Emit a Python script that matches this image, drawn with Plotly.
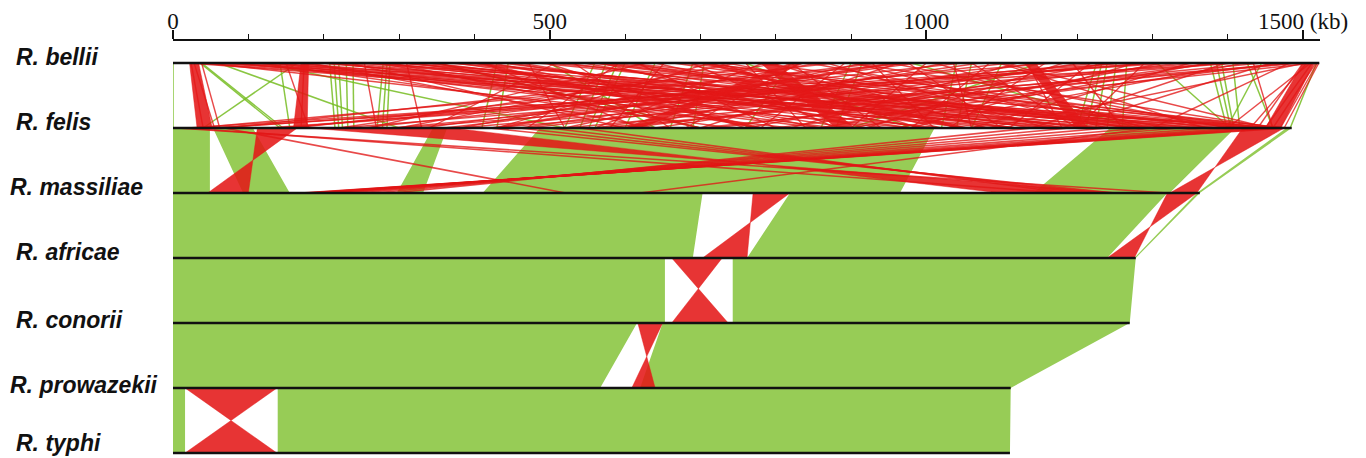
import plotly.graph_objects as go

# ---------------- data ----------------
genome_names = ["R. bellii", "R. felis", "R. massiliae", "R. africae",
                "R. conorii", "R. prowazekii", "R. typhi"]
genome_lengths_kb = [1522, 1485, 1363, 1278, 1270, 1112, 1111]

major_ticks_kb = [0, 500, 1000, 1500]
major_tick_text = ["0", "500", "1000", "1500 (kb)"]

# Synteny blocks between consecutive genomes, in kb:
# (upper start, upper end, lower start, lower end)
# "same" = collinear (green); "inv" = inverted (red), upper start pairs with lower end
felis_massiliae_same = [(0, 49, 0, 49), (53, 106, 93, 155), (345, 364, 297, 332),
                        (487, 1011, 411, 965), (1244, 1410, 1142, 1323),
                        (1478, 1485, 1359, 1363)]
felis_massiliae_inv = [(112, 165, 46, 100), (180, 370, 1098, 1257),
                       (1420, 1475, 1323, 1359)]
# single inverted matches (felis kb, massiliae kb)
felis_massiliae_lines_red = [(5, 1320), (68, 521), (20, 1180), (1300, 620),
                             (1480, 170), (1470, 176), (1460, 182), (1445, 186),
                             (1430, 190), (1410, 196), (1380, 204), (1340, 214),
                             (1290, 228), (1240, 246), (1190, 268), (1140, 292),
                             (420, 1250), (460, 1232), (500, 1210), (540, 1186)]

massiliae_africae_same = [(0, 703, 0, 690), (819, 1320, 762, 1240), (1359, 1363, 1276, 1278)]
massiliae_africae_inv = [(770, 819, 703, 762), (1320, 1359, 1240, 1276)]

africae_conorii_same = [(0, 653, 0, 653), (743, 1278, 743, 1270)]
africae_conorii_inv = [(662, 729, 662, 737)]

conorii_prowazekii_same = [(0, 616, 0, 567), (650, 1270, 620, 1112)]
conorii_prowazekii_inv = [(617, 650, 609, 640)]

prowazekii_typhi_same = [(0, 16, 0, 16), (139, 1112, 139, 1111)]
prowazekii_typhi_inv = [(16, 138, 16, 138)]

# R. bellii vs R. felis: matches (bellii kb, felis kb)
bellii_felis_green = [(0, 0), (36, 142), (38, 146), (165, 40), (142, 155), (208, 215),
                      (214, 220), (220, 225), (230, 232), (239, 240), (279, 271),
                      (284, 278), (288, 284), (120, 520), (60, 300), (430, 410),
                      (445, 430), (560, 520), (575, 540), (590, 552), (600, 560),
                      (690, 660), (705, 690), (900, 860), (915, 880), (1040, 1020),
                      (1060, 1040), (1226, 1200), (1233, 1212), (1240, 1225),
                      (1252, 1240), (1266, 1260), (1377, 1399), (1385, 1404),
                      (1392, 1408), (1407, 1416), (1426, 1460), (1445, 1399),
                      (1306, 1403), (1518, 1483), (980, 1280), (1150, 900), (760, 980),
                      (350, 700), (820, 760), (640, 600), (1100, 1060), (500, 640)]
bellii_felis_red = [(20, 1180), (24, 40), (28, 55), (32, 1240), (38, 62), (45, 820),
                    (52, 1300), (66, 1430), (74, 1120), (82, 980), (90, 1260),
                    (106, 1380), (114, 740), (122, 1470), (130, 860), (140, 1020),
                    (150, 180), (158, 1200), (166, 880), (174, 170), (182, 640),
                    (190, 1340), (206, 1090), (214, 950), (226, 1160), (234, 600),
                    (246, 1280), (254, 270), (262, 1400), (270, 780), (280, 1060),
                    (290, 700), (300, 1230), (300, 1470), (310, 330), (320, 900),
                    (330, 1180), (340, 1120), (352, 700), (364, 1440), (376, 980),
                    (388, 1350), (400, 1300), (412, 620), (424, 860), (436, 1120),
                    (448, 1000), (460, 1000), (472, 520), (484, 1360), (496, 760),
                    (500, 1460), (508, 340), (520, 1210), (532, 660), (544, 1050),
                    (556, 1280), (568, 920), (580, 1420), (592, 470), (600, 1480),
                    (604, 1140), (616, 800), (628, 260), (640, 1020), (652, 580),
                    (664, 1270), (676, 1450), (688, 880), (700, 1380), (700, 1475),
                    (712, 430), (724, 990), (736, 1180), (748, 300), (760, 840),
                    (772, 1450), (784, 560), (796, 1080), (808, 220), (820, 940),
                    (832, 680), (844, 1320), (856, 380), (868, 1160), (880, 70),
                    (892, 780), (900, 1465), (904, 1240), (916, 520), (928, 1010),
                    (940, 160), (952, 1400), (964, 700), (976, 1100), (980, 30),
                    (988, 330), (1000, 900), (1012, 1290), (1024, 600), (1036, 1060),
                    (1048, 250), (1060, 1200), (1072, 460), (1084, 980), (1096, 1370),
                    (1100, 1455), (1110, 360), (1122, 820), (1134, 1180), (1146, 560),
                    (1158, 1030), (1170, 140), (1182, 920), (1194, 1260), (1206, 640),
                    (1218, 1110), (1230, 290), (1242, 760), (1254, 470), (1266, 60),
                    (1278, 980), (1290, 1200), (1302, 220), (1314, 860), (1326, 20),
                    (1338, 600), (1350, 1060), (1362, 380), (1374, 900), (1386, 720),
                    (1398, 1140), (1410, 300), (1422, 960), (1434, 1460), (1446, 520),
                    (1458, 1180), (1470, 800), (1482, 1300), (1494, 420), (1500, 1440),
                    (1503, 1080), (1505, 1430), (1510, 1400), (1512, 1450), (1515, 700),
                    (1517, 1460), (1519, 1470), (1521, 1475)]
# thick red bundles: (bellii start, bellii end, felis start, felis end)
bellii_felis_red_bundles = [(22, 34, 32, 52), (170, 180, 160, 178), (250, 262, 1440, 1460),
                            (560, 575, 1300, 1320), (1400, 1415, 40, 55), (780, 800, 880, 905),
                            (820, 838, 600, 620), (1290, 1305, 120, 140),
                            (1500, 1515, 1450, 1470), (1480, 1500, 560, 580),
                            (700, 712, 1040, 1055), (950, 965, 420, 435),
                            (1130, 1145, 1200, 1215), (400, 412, 770, 785)]

# ---------------- styling ----------------
GREEN_FILL = "rgba(118,188,33,0.76)"
RED_FILL = "rgba(228,24,24,0.88)"
GREEN_LINE = "rgba(118,188,33,0.85)"
RED_LINE = "rgba(226,22,22,0.78)"

fig = go.Figure()


def same_polys(blocks, top):
    xs, ys = [], []
    for a1, a2, b1, b2 in blocks:
        xs += [a1, a2, b2, b1, a1, None]
        ys += [top, top, top + 1, top + 1, top, None]
    return xs, ys


def inv_polys(blocks, top):
    xs, ys = [], []
    for a1, a2, b1, b2 in blocks:
        s = (a2 - a1) / ((a2 - a1) + (b2 - b1))
        cx = a1 + s * (b2 - a1)
        cy = top + s
        xs += [a1, a2, cx, b1, b2, cx, a1, None]
        ys += [top, top, cy, top + 1, top + 1, cy, top, None]
    return xs, ys


def link_lines(pairs, top):
    xs, ys = [], []
    for a, b in pairs:
        xs += [a, b, None]
        ys += [top, top + 1, None]
    return xs, ys


panels = [
    (1, felis_massiliae_same, felis_massiliae_inv),
    (2, massiliae_africae_same, massiliae_africae_inv),
    (3, africae_conorii_same, africae_conorii_inv),
    (4, conorii_prowazekii_same, conorii_prowazekii_inv),
    (5, prowazekii_typhi_same, prowazekii_typhi_inv),
]

x, y = link_lines(bellii_felis_green, 0)
fig.add_trace(go.Scatter(x=x, y=y, mode="lines", line=dict(color=GREEN_LINE, width=1.5),
                         hoverinfo="skip", showlegend=False))
x, y = link_lines(bellii_felis_red, 0)
fig.add_trace(go.Scatter(x=x, y=y, mode="lines", line=dict(color=RED_LINE, width=1.4),
                         hoverinfo="skip", showlegend=False))
x, y = same_polys(bellii_felis_red_bundles, 0)
fig.add_trace(go.Scatter(x=x, y=y, mode="lines", fill="toself", fillcolor=RED_FILL,
                         line=dict(width=0.6, color=RED_FILL), hoverinfo="skip",
                         showlegend=False))

for top, same, inv in panels:
    x, y = same_polys(same, top)
    fig.add_trace(go.Scatter(x=x, y=y, mode="lines", fill="toself", fillcolor=GREEN_FILL,
                             line=dict(width=0, color=GREEN_FILL), hoverinfo="skip",
                             showlegend=False))
for top, same, inv in panels:
    x, y = inv_polys(inv, top)
    fig.add_trace(go.Scatter(x=x, y=y, mode="lines", fill="toself", fillcolor=RED_FILL,
                             line=dict(width=0.5, color=RED_FILL), hoverinfo="skip",
                             showlegend=False))

x, y = link_lines(felis_massiliae_lines_red, 1)
fig.add_trace(go.Scatter(x=x, y=y, mode="lines", line=dict(color=RED_LINE, width=1.6),
                         hoverinfo="skip", showlegend=False))

gx, gy = [], []
for i, L in enumerate(genome_lengths_kb):
    gx += [0, L, None]
    gy += [i, i, None]
fig.add_trace(go.Scatter(x=gx, y=gy, mode="lines", line=dict(color="#111111", width=2.6),
                         hoverinfo="skip", showlegend=False))

# The page body adds an 8 px margin, so the figure is placed 8 px in from the corner.
W, H = 1358, 450
OX, OY = 8, 8
label_left_px = {"R. massiliae": 8, "R. prowazekii": 8}
label_raise_px = {"R. bellii": 6, "R. felis": 6, "R. massiliae": 6, "R. africae": 6,
                  "R. conorii": 3, "R. prowazekii": 3, "R. typhi": 10}
for i, name in enumerate(genome_names):
    fig.add_annotation(x=(label_left_px.get(name, 14) - OX) / W, xref="paper",
                       y=i - label_raise_px[name] / 65, yref="y",
                       text="<b><i>" + name + "</i></b>", showarrow=False,
                       xanchor="left", yanchor="middle",
                       font=dict(family="Liberation Sans", size=23, color="#111111"))

PX_PER_KB = 1130 / 1500
axis_end_kb = genome_lengths_kb[0]
x_zero_px = 173 - OX
first_line_px = 63 - OY
y_top = -first_line_px / 65
y_bot = (H - first_line_px) / 65

fig.update_layout(
    width=W, height=H,
    margin=dict(l=0, r=0, t=0, b=0, autoexpand=False),
    paper_bgcolor="white", plot_bgcolor="white",
    xaxis=dict(
        domain=[x_zero_px / W, (x_zero_px + axis_end_kb * PX_PER_KB) / W],
        range=[0, axis_end_kb], anchor="free", position=1 - (40 - OY) / H, side="top",
        automargin=False,
        showline=True, linecolor="#111111", linewidth=1.6, showgrid=False, zeroline=False,
        ticks="outside", ticklen=9, tickwidth=1.6, tickcolor="#111111",
        tickvals=major_ticks_kb, ticktext=major_tick_text, ticklabelstandoff=-8,
        tickfont=dict(family="Liberation Serif", size=23, color="#111111"),
        minor=dict(dtick=100, ticklen=5, tickwidth=1.4, tickcolor="#111111", ticks="outside",
                   showgrid=False),
        fixedrange=True,
    ),
    yaxis=dict(range=[y_bot, y_top], visible=False, fixedrange=True, automargin=False),
)

fig.write_html("out.html")
